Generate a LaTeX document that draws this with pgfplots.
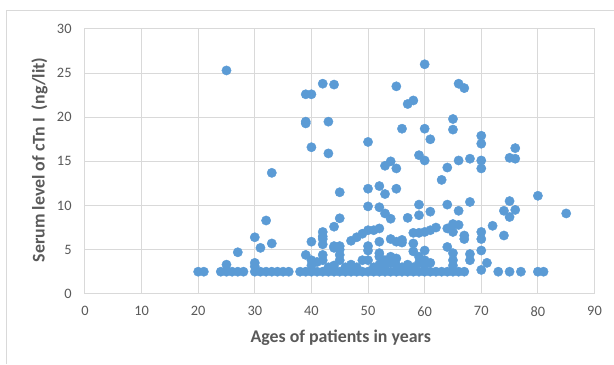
\documentclass[border=0pt]{standalone}
\usepackage{pgfplots}
\pgfplotsset{compat=1.18}
\usepackage{fontspec}
\setmainfont{Carlito}
\definecolor{pt}{HTML}{5B9BD5}
\definecolor{gridc}{HTML}{D9D9D9}
\definecolor{txt}{HTML}{595959}
\begin{document}
\begin{tikzpicture}[x=0.75pt,y=0.75pt]
\path (0,0) rectangle (614,364);
\draw[gridc, line width=0.75pt] (6.5,0) -- (6.5,353.5) -- (614,353.5);
\begin{axis}[
  at={(63.75pt,52.5pt)}, anchor=south west,
  scale only axis, width=382.5pt, height=198.75pt,
  xmin=0, xmax=90, ymin=0, ymax=30,
  xtick={0,10,...,90}, ytick={0,5,...,30},
  grid=major, major grid style={gridc, line width=0.75pt},
  axis line style={gridc, line width=0.75pt},
  tick style={draw=none},
  ticklabel style={font=\fontsize{10.8}{12}\selectfont, text=txt},
  xticklabel style={yshift=-6pt},
  yticklabel style={xshift=-6.5pt},
  /pgf/number format/assume math mode=true,
]
\addplot[only marks, mark=*, color=pt, mark size=3.5pt, mark options={fill=pt, draw=pt, line width=0.3pt}] coordinates {
(20,2.5)(21,2.5)(24,2.5)(25,2.5)(26,2.5)(27,2.5)(28,2.5)
(30,2.5)(31,2.5)(32,2.5)(33,2.5)(34,2.5)(35,2.5)(36,2.5)
(38,2.5)(39,2.5)(40,2.5)(41,2.5)(42,2.5)(43,2.5)(44,2.5)(45,2.5)(46,2.5)(47,2.5)(48,2.5)(49,2.5)
(50,2.5)(51,2.5)(52,2.5)(53,2.5)(54,2.5)(55,2.5)(56,2.5)(57,2.5)(58,2.5)(59,2.5)(60,2.5)(61,2.5)(62,2.5)
(63,2.5)(64,2.5)(65,2.5)(66,2.5)(67,2.5)(73,2.5)(75,2.5)(77,2.5)(80,2.5)(81,2.5)
(25,3.3)(27,4.7)(30,3.5)(30,3.1)(30,6.4)(31,5.2)(32,8.3)(33,5.7)(33,13.7)
(39,4.4)(40,3.8)(41,3.6)(42,4.4)(42,3.8)(40,3.2)(43,3.0)(44,3.2)(46,3.0)(47,3.3)(48,3.0)(51,3.0)
(44,5.4)(45,5.4)(45,5.0)(45,4.4)(45,3.8)(49,3.8)(50,3.8)(50,5.4)(50,4.9)
(52,4.6)(52,4.2)(53,3.8)(54,4.2)(55,4.0)(52,5.9)(54,6.2)(55,5.9)(56,6.1)(56,5.8)
(52,3.3)(53,3.2)(54,3.5)(55,3.2)(56,3.0)(57,3.3)(58,3.0)(59,3.5)(60,3.8)(60,3.2)(61,3.5)(59,4.2)
(40,5.9)(42,7.0)(42,6.5)(42,6.2)(42,5.6)(44,7.6)(45,8.55)(45,11.5)(44,5.2)
(47,6.0)(48,6.4)(49,6.8)(50,7.2)(51,7.2)(52,7.4)
(50,9.9)(52,9.8)(53,9.1)(54,8.5)(57,8.6)(59,10.1)(59,8.9)(61,9.3)
(58,6.9)(59,6.9)(60,7.0)(61,7.2)(62,7.5)(58,5.7)(58,4.8)(60,4.9)
(64,5.3)(65,4.6)(65,3.8)(65,3.2)(64,7.4)(65,7.9)(66,7.8)(65,7.0)(67,6.6)(67,6.2)
(64,10.1)(66,9.4)(68,10.4)(68,4.5)(68,3.8)(70,7.0)(70,6.2)(70,4.9)(71,3.5)(70,2.7)
(72,7.7)(74,6.6)(74,9.4)(75,10.5)(76,9.5)(75,8.7)(85,9.1)(80,11.1)
(25,25.3)(42,23.8)(44,23.7)(39,22.6)(40,22.6)(39,19.5)(39,19.3)(43,19.5)(40,16.6)(43,15.9)(50,17.2)
(60,26.0)(55,23.5)(66,23.8)(67,23.3)(57,21.5)(58,21.9)(65,19.8)(56,18.7)(60,18.7)(65,18.6)(61,17.5)
(70,17.9)(70,17.0)(76,16.5)(75,15.4)(76,15.3)(59,15.7)(60,15.1)(66,15.1)(68,15.3)(70,15.1)
(54,15.0)(53,14.5)(55,14.2)(64,14.3)(70,14.2)(63,12.9)
(50,11.9)(52,12.2)(53,11.3)(55,11.9)
};
\end{axis}
\node[font=\bfseries\fontsize{13.4}{15}\selectfont, text=txt] at (341,26) {Ages of patients in years};
\node[rotate=90, font=\bfseries\fontsize{13.4}{15}\selectfont, text=txt] at (39.5,204) {Serum level of cTn I\ \ (ng/lit)};
\end{tikzpicture}
\end{document}
